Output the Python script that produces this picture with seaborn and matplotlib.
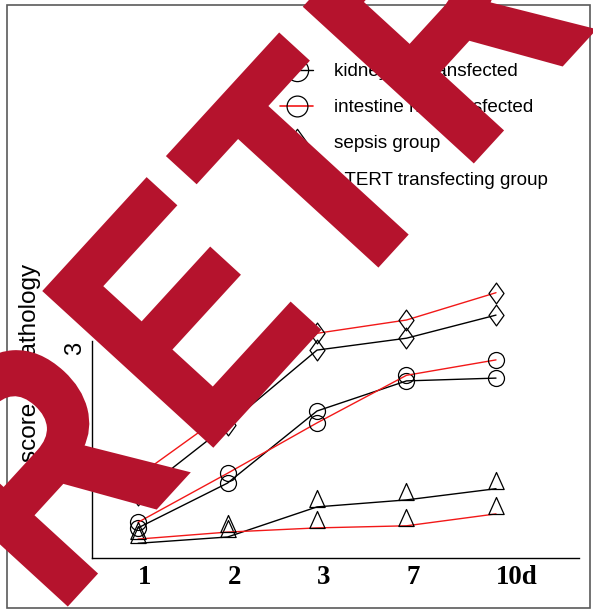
import numpy as np
import pandas as pd
import matplotlib
matplotlib.use("Agg")
import matplotlib.pyplot as plt
import seaborn as sns
from matplotlib.path import Path
from matplotlib.textpath import TextPath
from matplotlib.font_manager import FontProperties
from matplotlib.patches import PathPatch, Rectangle
from matplotlib.lines import Line2D
from matplotlib.transforms import Affine2D, ScaledTranslation

# ---- data -------------------------------------------------------------
days = ["1", "2", "3", "7", "10d"]
kidney_not_transfected = [0.43, 1.07, 2.10, 2.53, 2.57]
intestine_not_transfected = [0.51, 1.21, 1.93, 2.61, 2.83]
kidney_sepsis = [0.90, 1.90, 2.97, 3.14, 3.47]
intestine_sepsis = [1.17, 2.09, 3.21, 3.40, 3.79]
kidney_htert = [0.21, 0.30, 0.73, 0.83, 0.99]
intestine_htert = [0.27, 0.37, 0.43, 0.46, 0.63]
y_ticks = [0, 3]
y_tick_labels = ["", "3"]
legend_labels = ["kidney not transfected", "intestine not transfected",
                 "sepsis group", "hTERT transfecting group"]
stamp_word = "RETRACTED"

series = {
    ("kidney", "not"): kidney_not_transfected,
    ("intestine", "not"): intestine_not_transfected,
    ("kidney", "sepsis"): kidney_sepsis,
    ("intestine", "sepsis"): intestine_sepsis,
    ("kidney", "htert"): kidney_htert,
    ("intestine", "htert"): intestine_htert,
}
rows = []
for (organ, group), vals in series.items():
    for i, (d, v) in enumerate(zip(days, vals)):
        rows.append({"organ": organ, "group": group, "pos": i, "day": d, "score": v})
df = pd.DataFrame(rows)

# ---- style ------------------------------------------------------------
sns.set_style("white")
plt.rcParams["font.family"] = ["Liberation Sans", "DejaVu Sans"]
plt.rcParams["text.color"] = "black"
plt.rcParams["axes.labelcolor"] = "black"
plt.rcParams["xtick.color"] = "black"
plt.rcParams["ytick.color"] = "black"

W, H, DPI = 593, 613, 100
fig = plt.figure(figsize=(W / DPI, H / DPI), dpi=DPI)
fig.patch.set_facecolor("white")

def fx(px):
    return px / W

def fy(py):
    return 1 - py / H

# axes: x axis at y=558 px, from x=92 to x=579 px
ax = fig.add_axes([fx(92), fy(558), (579 - 92) / W, (558 - 20) / H])
ax.set_facecolor("none")

RED = "#f21818"
line_colors = {"kidney": "black", "intestine": RED}

diamond = Path([(0, 1), (0.72, 0), (0, -1), (-0.72, 0), (0, 1)],
               [Path.MOVETO, Path.LINETO, Path.LINETO, Path.LINETO, Path.CLOSEPOLY])
# triangle standing on its base at the data point
triangle = Path([(-0.45, 0), (0.45, 0), (0, 1), (-0.45, 0)],
                [Path.MOVETO, Path.LINETO, Path.LINETO, Path.CLOSEPOLY])
markers = {"not": "o", "sepsis": diamond, "htert": triangle}
msizes = {"not": 11.5, "sepsis": 15.0, "htert": 24.5}

for (organ, group), sub in df.groupby(["organ", "group"], sort=False):
    sns.lineplot(data=sub, x="pos", y="score", ax=ax, color=line_colors[organ],
                 lw=1.0, marker=markers[group], markersize=msizes[group],
                 mfc="none", mec="black", mew=0.9, legend=False, errorbar=None)

px_per_unit_x = 89.5
ax.set_xlim((92 - 138) / px_per_unit_x, (579 - 138) / px_per_unit_x)
ax.set_ylim(0, (558 - 20) / 70)

for s in ["top", "right"]:
    ax.spines[s].set_visible(False)
for s in ["left", "bottom"]:
    ax.spines[s].set_color("black")
    ax.spines[s].set_linewidth(1.0)
ax.spines["left"].set_bounds(0, 3.1)

ax.set_xticks(range(len(days)))
ax.set_xticklabels(days, fontfamily="Liberation Serif", fontweight="bold",
                   fontsize=19.4, ha="left", color="black")
shift = ScaledTranslation(-2 / 72, 0, fig.dpi_scale_trans)
for lab in ax.get_xticklabels():
    lab.set_transform(lab.get_transform() + shift)
ax.tick_params(axis="x", length=4.3, width=1.0, pad=0.5, color="black", direction="out")

ax.set_yticks(y_ticks)
ax.set_yticklabels(y_tick_labels, rotation=90, va="center", fontsize=17, color="black")
ax.tick_params(axis="y", length=2, width=1.0, pad=2, color="black", direction="out")

ax.set_xlabel("")
ax.set_ylabel("score of pathology", fontsize=17.5, color="black")
ax.yaxis.set_label_coords(fx(30), fy(363), transform=fig.transFigure)
ax.yaxis.label.set_va("center")

# ---- legend -------------------------------------------------------------
handles = [
    Line2D([], [], color="black", lw=1.0, marker="o", ms=16, mfc="none", mec="black", mew=0.9),
    Line2D([], [], color=RED, lw=1.2, marker="o", ms=15, mfc="none", mec="black", mew=0.9),
    Line2D([], [], ls="none", marker=diamond, ms=19, mfc="none", mec="black", mew=0.9),
    Line2D([], [], ls="none", marker=triangle, ms=30, mfc="none", mec="black", mew=0.9),
]
leg = ax.legend(handles, legend_labels, loc="upper left",
                bbox_to_anchor=(fx(280), fy(63)), bbox_transform=fig.transFigure,
                frameon=False, fontsize=13.6, handlelength=1.75, handletextpad=1.1,
                labelspacing=1.0, borderpad=0, borderaxespad=0)
for t in leg.get_texts():
    t.set_color("black")

# ---- outer frame --------------------------------------------------------
fig.add_artist(Rectangle((fx(7), fy(608)), (590 - 7) / W, (608 - 5) / H,
                         transform=fig.transFigure, fill=False,
                         ec="#5a5a5a", lw=1.2, zorder=5))

# ---- diagonal stamp -------------------------------------------------------
STAMP_RED = "#b5132d"
stamp_font = FontProperties(family="Liberation Sans", weight="bold")
theta = np.deg2rad(47.5)
u = np.array([np.cos(theta), np.sin(theta)])
origin_e = np.array([211.8, 167.3])   # baseline-left of the "E", display px

e_ext = TextPath((0, 0), "E", size=1, prop=stamp_font).get_extents()
sy = 227 / e_ext.y1
sx = 155 / e_ext.width

glyphs = []
for ch in stamp_word:
    tp = TextPath((0, 0), ch, size=1, prop=stamp_font)
    glyphs.append((tp, tp.get_extents()))

# left edge of each letter along the baseline, relative to the "E"
r_width = glyphs[0][1].width * sx
offsets = [-38 - r_width, 2.0, 185.0, 387.6]
pos = offsets[-1] + glyphs[3][1].width * sx
for tp, ext in glyphs[4:]:
    pos += 28
    offsets.append(pos)
    pos += ext.width * sx

for (tp, ext), off in zip(glyphs, offsets):
    o = origin_e + off * u
    tr = (Affine2D().translate(-ext.x0, 0).scale(sx, sy).rotate(theta)
          .translate(o[0], o[1]).scale(1 / DPI) + fig.dpi_scale_trans)
    # a matching outline thickens the strokes a little
    fig.add_artist(PathPatch(tp, transform=tr, facecolor=STAMP_RED,
                             edgecolor=STAMP_RED, lw=3.6, joinstyle="miter",
                             zorder=20))

fig.savefig("out.png", dpi=DPI, facecolor="white")
